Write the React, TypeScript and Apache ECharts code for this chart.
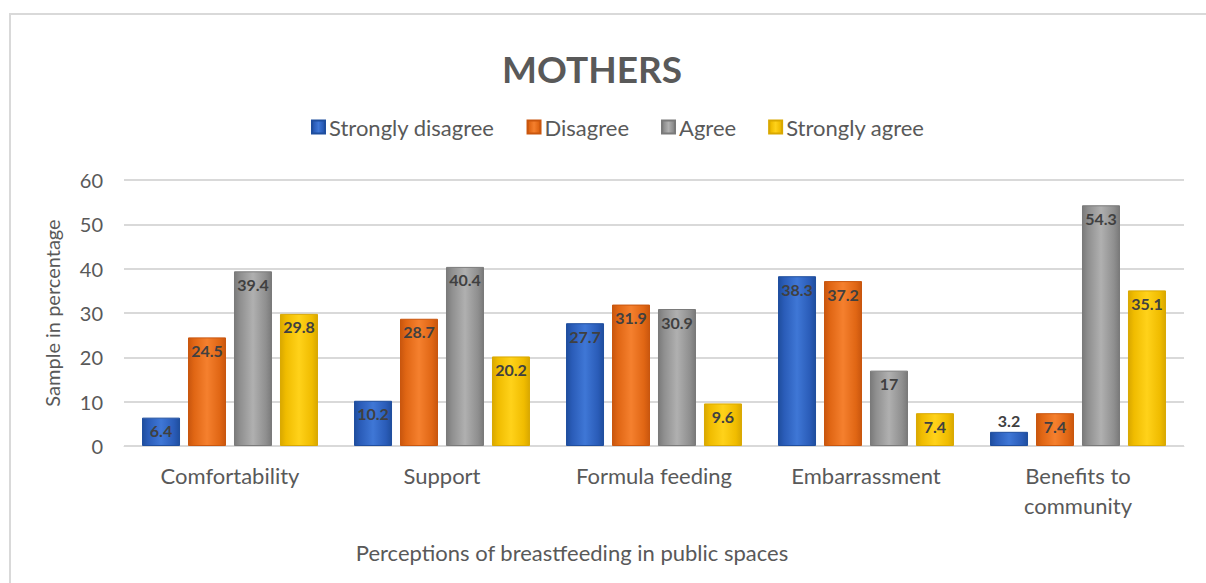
import React, { useEffect, useRef } from "react";
import * as echarts from "echarts";

const categories = ["Comfortability", "Support", "Formula feeding", "Embarrassment", "Benefits to\ncommunity"];
const seriesNames = ["Strongly disagree", "Disagree", "Agree", "Strongly agree"];
const stronglyDisagree = [6.4, 10.2, 27.7, 38.3, 3.2];
const disagree = [24.5, 28.7, 31.9, 37.2, 7.4];
const agree = [39.4, 40.4, 30.9, 17, 54.3];
const stronglyAgree = [29.8, 20.2, 9.6, 7.4, 35.1];
const yTicks = { min: 0, max: 60, interval: 10 };

const FONT = "Lato, 'Open Sans', sans-serif";

const palettes = [
  ["#1f4e9e", "#3f77d6", "#2a5cb8"],
  ["#c9560e", "#f5802e", "#e06614"],
  ["#7a7a7a", "#b0b0b0", "#8f8f8f"],
  ["#d9a800", "#ffd21a", "#f0bc00"],
];

function grad(p: string[]) {
  return new echarts.graphic.LinearGradient(0, 0, 1, 0, [
    { offset: 0, color: p[0] },
    { offset: 0.15, color: p[2] },
    { offset: 0.5, color: p[1] },
    { offset: 0.85, color: p[2] },
    { offset: 1, color: p[0] },
  ]);
}

export default function App() {
  const ref = useRef<HTMLDivElement>(null);
  useEffect(() => {
    if (!ref.current) return;
    const chart = echarts.init(ref.current, undefined, { renderer: "svg" });
    const all = [stronglyDisagree, disagree, agree, stronglyAgree];
    chart.setOption({
      animation: false,
      backgroundColor: "#ffffff",
      title: {
        text: "MOTHERS",
        left: 587,
        top: 45,
        textAlign: "center",
        textStyle: { fontFamily: FONT, fontSize: 37, fontWeight: "bold", color: "#595959" },
      },
      legend: {
        data: seriesNames,
        left: 306,
        top: 111,
        itemWidth: 13,
        itemHeight: 13,
        itemGap: 32,
        icon: "rect",
        textStyle: { fontFamily: FONT, fontSize: 22, color: "#595959", padding: [0, 0, 0, -1] },
      },
      graphic: [
        {
          type: "rect",
          shape: { x: 10, y: 14, width: 1220, height: 600 },
          style: { fill: "none", stroke: "#d9d9d9", lineWidth: 2 },
          silent: true,
        },
        {
          type: "text",
          x: 572,
          y: 552,
          style: {
            text: "Perceptions of breastfeeding in public spaces",
            fontFamily: FONT,
            fontSize: 22,
            fill: "#595959",
            textAlign: "center",
            textVerticalAlign: "middle",
          },
        },
      ],
      grid: { left: 124, right: 22, top: 180, bottom: 137 },
      xAxis: {
        type: "category",
        data: categories,
        axisLine: { show: true, lineStyle: { color: "#d9d9d9", width: 1 } },
        axisTick: { show: false },
        axisLabel: {
          fontFamily: FONT,
          fontSize: 22,
          color: "#595959",
          margin: 14,
          lineHeight: 30,
        },
      },
      yAxis: {
        type: "value",
        min: yTicks.min,
        max: yTicks.max,
        interval: yTicks.interval,
        name: "Sample in percentage",
        nameLocation: "middle",
        nameGap: 62,
        nameTextStyle: { fontFamily: FONT, fontSize: 20, color: "#595959" },
        axisLine: { show: false },
        axisTick: { show: false },
        axisLabel: { fontFamily: FONT, fontSize: 20, color: "#595959", margin: 21 },
        splitLine: { lineStyle: { color: "#d9d9d9", width: 2 } },
      },
      series: all.map((vals, i) => ({
        name: seriesNames[i],
        type: "bar",
        barGap: "21%",
        barCategoryGap: "17%",
        itemStyle: {
          color: grad(palettes[i]),
          borderColor: palettes[i][0],
          borderWidth: 1,
        },
        data: vals.map((v) => ({
          value: v,
          label: v < 5 ? { position: "top", distance: 3 } : undefined,
        })),
        label: {
          show: true,
          position: "insideTop",
          distance: 5,
          fontFamily: FONT,
          fontSize: 16,
          fontWeight: "bold",
          color: "#404040",
        },
      })),
    });
    return () => chart.dispose();
  }, []);
  return (
    <div
      ref={ref}
      style={{ position: "fixed", left: 0, top: 0, width: 1206, height: 583 }}
    />
  );
}
